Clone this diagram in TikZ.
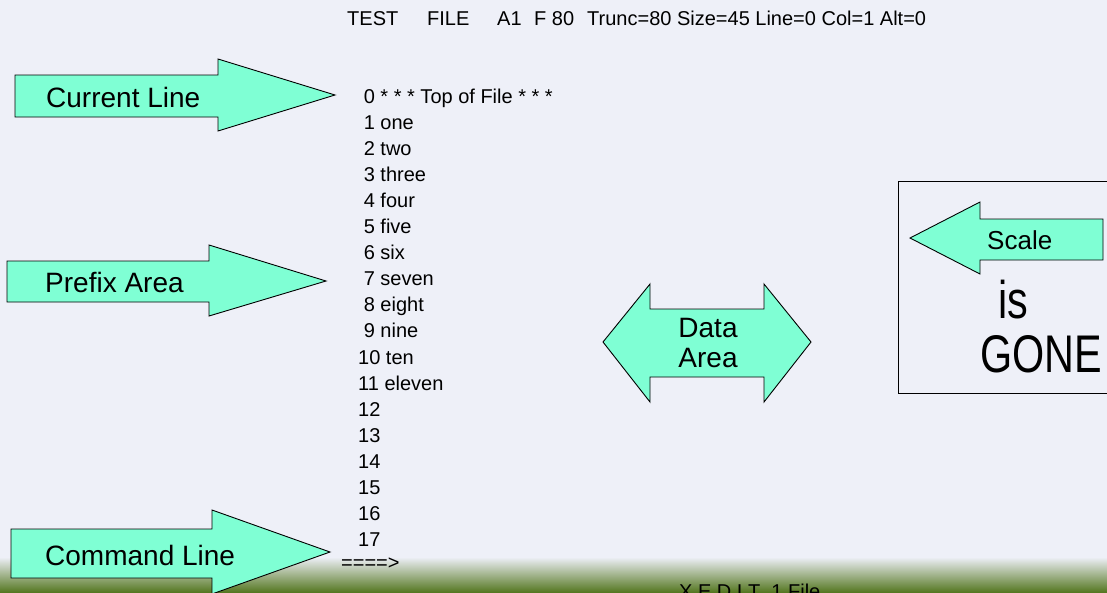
\documentclass[tikz,border=0pt]{standalone}
\usepackage{fontspec}
\setmainfont{Liberation Sans}
\usetikzlibrary{positioning}
\definecolor{slidebg}{RGB}{238,240,248}
\definecolor{aqua}{RGB}{127,255,212}
\definecolor{bandgreen}{RGB}{86,120,34}
\definecolor{bandmid}{RGB}{180,197,162}
\tikzset{
  callout/.style={draw=black, fill=aqua, line width=0.9pt},
  tag/.style={anchor=base west, inner sep=0pt, font=\fontsize{28}{32}\selectfont},
  listline/.style={anchor=base west, inner sep=0pt, font=\fontsize{20}{24}\selectfont},
}

\begin{document}
\begin{tikzpicture}[x=1pt,y=-1pt]
    \useasboundingbox (0,0) rectangle (1107,592);
    \clip (0,0) rectangle (1107,592);
    \fill[slidebg] (0,0) rectangle (1107,592);
    \shade[top color=slidebg, middle color=bandmid, bottom color=bandgreen] (0,557) rectangle (1107,592);

    % status line at the top
    \node[listline] (fname) at (347,25.3) {TEST};
    \node[listline] (ftype) at (427,25.3) {FILE};
    \node[listline] (fmode) at (497,25.3) {A1};
    \node[listline] (recfm) at (534,25.3) {F 80};
    \node[listline] (status) at (587,25.3) {Trunc=80 Size=45 Line=0 Col=1 Alt=0};

    % file lines
    \foreach \n/\txt in {0/{* * * Top of File * * *},1/one,2/two,3/three,4/four,5/five,6/six,7/seven,8/eight,9/nine,10/ten,11/eleven,12/,13/,14/,15/,16/,17/} {
      \ifnum\n<10 \def\xs{363.6}\else\def\xs{358}\fi
      \node[listline] (line\n) at (\xs,{103+\n*26.1}) {\n\ \txt};
    }
    \node[listline] (cmdline) at (341,569) {====>};
    \node[listline] (xedit) at (679,598) {X E D I T\ \ 1 File};

    % callouts
    \draw[callout] (15,75) -- (218,75) -- (218,59) -- (335,95) -- (218,131) -- (218,117) -- (15,117) -- cycle;
    \node[tag] (current) at (46,107) {Current Line};
    \draw[callout] (7,261) -- (209,261) -- (209,245) -- (326,281) -- (209,316) -- (209,302) -- (7,302) -- cycle;
    \node[tag] (prefix) at (45,292) {Prefix Area};
    \draw[callout] (11,529) -- (212,529) -- (212,510) -- (330,552) -- (212,594) -- (212,578) -- (11,578) -- cycle;
    \node[tag] (command) at (45,565) {Command Line};

    \draw[callout] (603,342) -- (650,284) -- (650,309) -- (764,309) -- (764,284) -- (811,342)
      -- (764,402) -- (764,377) -- (650,377) -- (650,402) -- cycle;
    \node[tag, anchor=base] (data) at (708,337) {Data};
    \node[tag, anchor=base] (area) at (708,367) {Area};

    % scale box
    \draw[line width=0.9pt] (898,181) rectangle (1112,393);
    \draw[callout] (910,238) -- (980,202) -- (980,219) -- (1103,219) -- (1103,260) -- (980,260) -- (980,274) -- cycle;
    \node[tag, font=\fontsize{26}{30}\selectfont] (scale) at (987,249) {Scale};
    \node[tag, font=\fontsize{53}{60}\selectfont] (is) at (998,318) {\scalebox{0.78}[1]{is}};
    \node[tag, font=\fontsize{53}{60}\selectfont] (gone) at (980,372) {\scalebox{0.78}[1]{GONE}};
\end{tikzpicture}
\end{document}
